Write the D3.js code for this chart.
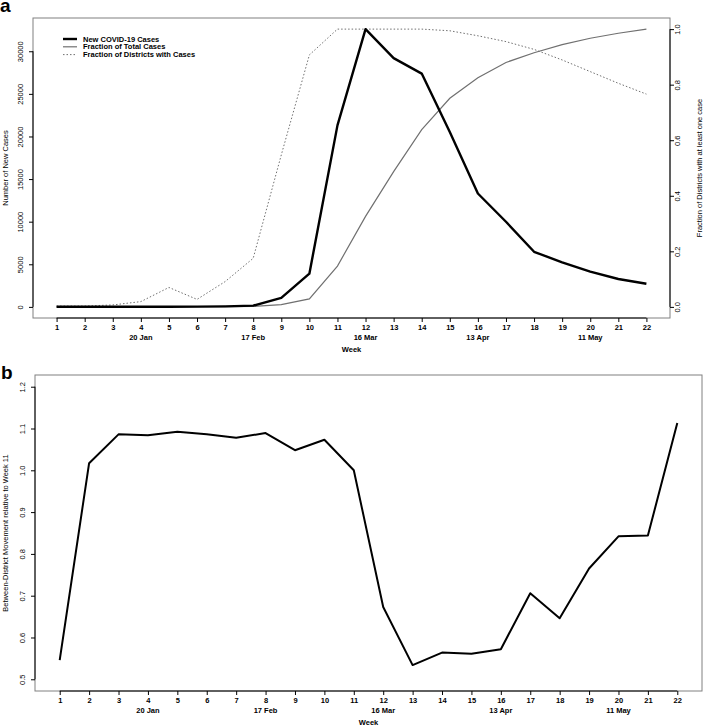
<!DOCTYPE html>
<html>
<head>
<meta charset="utf-8">
<script src="https://cdn.jsdelivr.net/npm/d3@7/dist/d3.min.js"></script>
<style>
  body { margin: 0; background: #fff; }
  svg { font-family: "Liberation Sans", Arial, sans-serif; }
  .box { fill: none; stroke: #808080; stroke-width: 1; }
  .axis-line { stroke: #000; stroke-width: 1; }
</style>
</head>
<body>
<div id="chart"></div>
<script>
const weeks = [1, 2, 3, 4, 5, 6, 7, 8, 9, 10, 11, 12, 13, 14, 15, 16, 17, 18, 19, 20, 21, 22];
const newCases = [20, 10, 15, 20, 25, 30, 60, 150, 1050, 3900, 21300, 32600, 29200, 27380,
                  20530, 13310, 9990, 6470, 5220, 4130, 3270, 2720];
const fracTotal = [0.0001, 0.0002, 0.0002, 0.0004, 0.0005, 0.0007, 0.001, 0.002, 0.008, 0.029, 0.147,
                   0.326, 0.487, 0.638, 0.751, 0.825, 0.880, 0.915, 0.944, 0.967, 0.985, 1.0];
const fracDistricts = [0.003, 0.003, 0.007, 0.019, 0.070, 0.027, 0.091, 0.175, 0.547, 0.907, 1.0,
                       1.0, 1.0, 1.0, 0.994, 0.976, 0.955, 0.927, 0.889, 0.847, 0.805, 0.766];
const movement = [0.546, 1.017, 1.086, 1.084, 1.092, 1.086, 1.078, 1.089, 1.048, 1.073, 1.0,
                  0.673, 0.534, 0.564, 0.561, 0.572, 0.706, 0.646, 0.765, 0.842, 0.844, 1.113];
const dateWeeks = [4, 8, 12, 16, 20];
const dateLabels = ["20 Jan", "17 Feb", "16 Mar", "13 Apr", "11 May"];
const casesTicks = [0, 5000, 10000, 15000, 20000, 25000, 30000];
const fracTicks = [0, 0.2, 0.4, 0.6, 0.8, 1.0];
const moveTicks = [0.5, 0.6, 0.7, 0.8, 0.9, 1.0, 1.1, 1.2];
const legendNames = ["New COVID-19 Cases", "Fraction of Total Cases", "Fraction of Districts with Cases"];

const W = 703, H = 727;
const svg = d3.select('#chart').append('svg').attr('width', W).attr('height', H);

// R-style 4% axis padding
function pad(lo, hi) { const d = (hi - lo) * 0.04; return [lo - d, hi + d]; }

function xAxis(g, x, y0) {
    g.append('g')
        .attr('transform', `translate(0,${y0})`)
        .call(d3.axisBottom(x).tickValues(weeks).tickSize(4).tickPadding(3).tickSizeOuter(0))
        .call(a => a.select('.domain').remove())
        .call(a => a.selectAll('line').attr('stroke', '#000'))
        .call(a => a.selectAll('text').attr('font-size', 7.5).attr('font-weight', 'bold').attr('font-family', null).attr('fill', '#000'));
    g.append('line').attr('class', 'axis-line')
        .attr('x1', x(weeks[0])).attr('x2', x(weeks[weeks.length - 1]))
        .attr('y1', y0).attr('y2', y0);
    g.selectAll('.date')
        .data(dateWeeks)
        .enter().append('text')
        .attr('class', 'date')
        .attr('x', d => x(d))
        .attr('y', y0 + 22)
        .attr('text-anchor', 'middle')
        .attr('font-size', 7.5)
        .attr('font-weight', 'bold')
        .text((d, i) => dateLabels[i]);
    g.append('text')
        .attr('x', (x.range()[0] + x.range()[1]) / 2)
        .attr('y', y0 + 33.5)
        .attr('text-anchor', 'middle')
        .attr('font-size', 7.5)
        .attr('font-weight', 'bold')
        .text('Week');
}

function yAxis(g, y, x0, ticks, fmt, side) {
    const ax = side === 'left' ? d3.axisLeft(y) : d3.axisRight(y);
    g.append('g')
        .attr('transform', `translate(${x0},0)`)
        .call(ax.tickValues(ticks).tickSize(4).tickSizeOuter(0).tickFormat(fmt))
        .call(a => a.select('.domain').remove())
        .call(a => a.selectAll('line').attr('stroke', '#000'))
        .call(a => a.selectAll('text')
            .attr('x', 0).attr('dy', 0)
            .attr('text-anchor', 'middle')
            .attr('font-size', 7.5)
            .attr('font-family', null)
            .attr('fill', '#000')
            .attr('transform', side === 'left' ? 'translate(-10,0) rotate(-90)' : 'translate(10,0) rotate(-90)'));
    g.append('line').attr('class', 'axis-line')
        .attr('x1', x0).attr('x2', x0)
        .attr('y1', y(ticks[0])).attr('y2', y(ticks[ticks.length - 1]));
}

// ---------- panel a ----------
const a = { left: 33, right: 670, top: 18, bottom: 318 };
const ga = svg.append('g');
const xa = d3.scaleLinear().domain(pad(1, 22)).range([a.left, a.right]);
const yCases = d3.scaleLinear().domain(pad(0, d3.max(newCases))).range([a.bottom, a.top]);
const yFrac = d3.scaleLinear().domain(pad(0, 1)).range([a.bottom, a.top]);

ga.append('rect').attr('class', 'box')
    .attr('x', a.left).attr('y', a.top)
    .attr('width', a.right - a.left).attr('height', a.bottom - a.top);

xAxis(ga, xa, a.bottom);
yAxis(ga, yCases, a.left, casesTicks, d3.format('d'), 'left');
yAxis(ga, yFrac, a.right, fracTicks, d3.format('.1f'), 'right');

ga.append('text')
    .attr('transform', `translate(7.5,${(a.top + a.bottom) / 2}) rotate(-90)`)
    .attr('text-anchor', 'middle').attr('font-size', 7.5)
    .text('Number of New Cases');
ga.append('text')
    .attr('transform', `translate(702,${(a.top + a.bottom) / 2}) rotate(-90)`)
    .attr('text-anchor', 'middle').attr('font-size', 7.5)
    .text('Fraction of Districts with at least one case');

const lineFrac = d3.line().x((d, i) => xa(weeks[i])).y(d => yFrac(d));
const lineCases = d3.line().x((d, i) => xa(weeks[i])).y(d => yCases(d));

ga.append('path').datum(fracDistricts)
    .attr('d', lineFrac)
    .attr('fill', 'none').attr('stroke', '#707070').attr('stroke-width', 1)
    .attr('stroke-dasharray', '1.5,2');
ga.append('path').datum(fracTotal)
    .attr('d', lineFrac)
    .attr('fill', 'none').attr('stroke', '#707070').attr('stroke-width', 1.2);
ga.append('path').datum(newCases)
    .attr('d', lineCases)
    .attr('fill', 'none').attr('stroke', '#000').attr('stroke-width', 2.4)
    .attr('stroke-linejoin', 'round');

// Legend
const legendStyles = [
    { stroke: '#000', width: 2.4, dash: null },
    { stroke: '#707070', width: 1.2, dash: null },
    { stroke: '#707070', width: 1, dash: '1.5,2' }
];
const legend = ga.append('g');
legendNames.forEach((name, i) => {
    const yy = 39 + i * 7.8;
    legend.append('line')
        .attr('x1', 63).attr('x2', 77).attr('y1', yy).attr('y2', yy)
        .attr('stroke', legendStyles[i].stroke)
        .attr('stroke-width', legendStyles[i].width)
        .attr('stroke-dasharray', legendStyles[i].dash);
    legend.append('text')
        .attr('x', 83).attr('y', yy + 2.6)
        .attr('font-size', 7.5).attr('font-weight', 'bold')
        .text(name);
});

svg.append('text').attr('x', 0).attr('y', 12)
    .attr('font-size', 19).attr('font-weight', 'bold').text('a');

// ---------- panel b ----------
const b = { left: 35, right: 702, top: 375, bottom: 691 };
const gb = svg.append('g');
const xb = d3.scaleLinear().domain(pad(1, 22)).range([b.left, b.right]);
const yMove = d3.scaleLinear().domain(pad(0.5, 1.2)).range([b.bottom, b.top]);

gb.append('rect').attr('class', 'box')
    .attr('x', b.left).attr('y', b.top)
    .attr('width', b.right - b.left).attr('height', b.bottom - b.top);

xAxis(gb, xb, b.bottom);
yAxis(gb, yMove, b.left, moveTicks, d3.format('.1f'), 'left');

gb.append('text')
    .attr('transform', `translate(8,${(b.top + b.bottom) / 2}) rotate(-90)`)
    .attr('text-anchor', 'middle').attr('font-size', 7.5)
    .text('Between-District Movement relative to Week 11');

gb.append('path').datum(movement)
    .attr('d', d3.line().x((d, i) => xb(weeks[i])).y(d => yMove(d)))
    .attr('fill', 'none').attr('stroke', '#000').attr('stroke-width', 2)
    .attr('stroke-linejoin', 'round');

svg.append('text').attr('x', 1).attr('y', 379)
    .attr('font-size', 19).attr('font-weight', 'bold').text('b');
</script>
</body>
</html>
